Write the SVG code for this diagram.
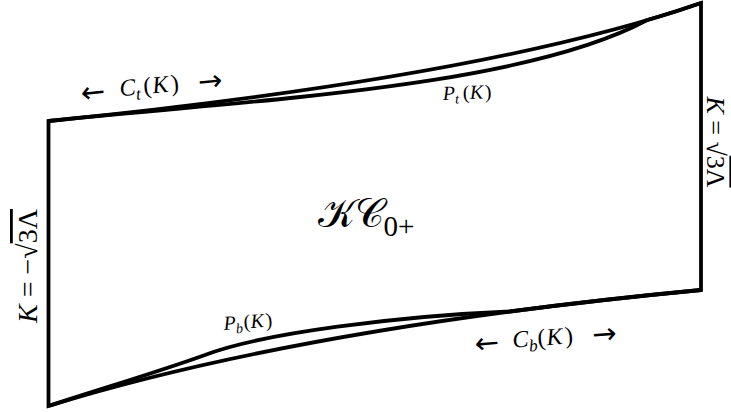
<svg xmlns="http://www.w3.org/2000/svg" width="731" height="412" viewBox="0 0 731 412">
<style>
.ln{fill:none;stroke:#000;stroke-width:3.8;stroke-linejoin:miter;stroke-miterlimit:10}
.t{font-family:"Liberation Serif","DejaVu Serif",serif;fill:#000}
.i{font-style:italic}
.ar{font-family:"DejaVu Sans",sans-serif;font-size:29px}
</style>
<rect width="731" height="412" fill="#fff"/>
<g id="connectors">
  <path id="boundary" class="ln" d="M48.5,121 Q488,77 701,3 L701,290 Q300.5,328 48.5,406 Z"/>
  <path id="Pt" class="ln" d="M48.5,121 C250,100 520,88 646.7,20.3 Q675.5,11.9 701,3"/>
  <path id="Pb" class="ln" d="M48.5,406 C100,389 155,373 205,355 C262,333 400,316 510,311.5 Q600.9,299.5 701,290"/>
</g>
<g id="label-Ct">
  <text class="t" transform="translate(155,93) rotate(-5.5)" font-size="24"><tspan class="ar" x="-74" y="3">←</tspan><tspan class="i" x="-35" y="0">C</tspan><tspan class="i" font-size="17" x="-19" y="5">t</tspan><tspan x="-11" y="0">(</tspan><tspan class="i" x="-2" y="0">K</tspan><tspan x="16.5" y="0">)</tspan><tspan class="ar" x="44" y="3">→</tspan></text>
</g>
<g id="label-Pt">
  <text class="t" transform="translate(443,100) rotate(-2)" font-size="20"><tspan class="i" x="0" y="0">P</tspan><tspan class="i" font-size="14" x="12" y="4">t</tspan><tspan x="20" y="0">(</tspan><tspan class="i" x="27" y="0">K</tspan><tspan x="42" y="0">)</tspan></text>
</g>
<g id="label-Pb">
  <text class="t" transform="translate(224,330) rotate(-4)" font-size="20"><tspan class="i" x="0" y="0">P</tspan><tspan class="i" font-size="14" x="12" y="4">b</tspan><tspan x="20" y="0">(</tspan><tspan class="i" x="27" y="0">K</tspan><tspan x="42" y="0">)</tspan></text>
</g>
<g id="label-Cb">
  <text class="t" transform="translate(549,345) rotate(-4.5)" font-size="24"><tspan class="ar" x="-74" y="3">←</tspan><tspan class="i" x="-36" y="0">C</tspan><tspan class="i" font-size="17" x="-20" y="5">b</tspan><tspan x="-11" y="0">(</tspan><tspan class="i" x="-2" y="0">K</tspan><tspan x="16.5" y="0">)</tspan><tspan class="ar" x="44" y="3">→</tspan></text>
</g>
<g id="label-left">
  <text class="t" transform="translate(37,266) rotate(-90)" x="0" y="0" text-anchor="middle" font-size="28"><tspan class="i">K</tspan> = −√<tspan text-decoration="overline">3Λ</tspan></text>
</g>
<g id="label-right">
  <text class="t" transform="translate(707,142) rotate(90)" x="0" y="0" text-anchor="middle" font-size="26"><tspan class="i">K</tspan> = √<tspan text-decoration="overline">3Λ</tspan></text>
</g>
<g id="region-label">
  <text class="t" x="366" y="227" text-anchor="middle" font-size="40">𝒦𝒞<tspan font-size="29" dy="9">0+</tspan></text>
</g>
</svg>
